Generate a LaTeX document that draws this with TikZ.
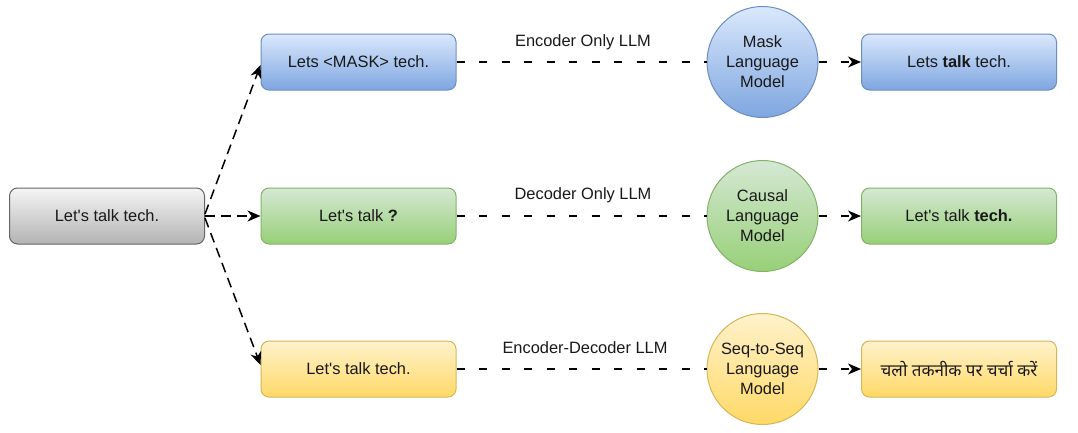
\documentclass[tikz,border=0pt]{standalone}
\usepackage{fontspec}
\setmainfont{Liberation Sans}[Ligatures=TeXOff]
\newfontfamily\hindifont[Script=Devanagari]{Noto Sans}
\usetikzlibrary{arrows.meta}
\definecolor{bluetop}{HTML}{DAE8FC}
\definecolor{bluebot}{HTML}{7EA6E0}
\definecolor{blueline}{HTML}{6C8EBF}
\definecolor{greentop}{HTML}{D5E8D4}
\definecolor{greenbot}{HTML}{97D077}
\definecolor{greenline}{HTML}{82B366}
\definecolor{yellowtop}{HTML}{FFF2CC}
\definecolor{yellowbot}{HTML}{FFD966}
\definecolor{yellowline}{HTML}{D6B656}
\definecolor{graytop}{HTML}{F5F5F5}
\definecolor{graybot}{HTML}{B3B3B3}
\definecolor{grayline}{HTML}{666666}
\begin{document}
\begin{tikzpicture}[x=1pt,y=-1pt,
  every node/.style={font=\fontsize{16.4}{20}\selectfont, text=black!90},
  box/.style={rectangle, rounded corners=8pt, minimum width=195pt, minimum height=56pt, line width=1pt, inner sep=0pt},
  circ/.style={circle, minimum size=111pt, inner sep=0pt, align=center, line width=1pt},
  bluefill/.style={draw=blueline, top color=bluetop, bottom color=bluebot},
  greenfill/.style={draw=greenline, top color=greentop, bottom color=greenbot},
  yellowfill/.style={draw=yellowline, top color=yellowtop, bottom color=yellowbot},
  grayfill/.style={draw=grayline, top color=graytop, bottom color=graybot},
  tip/.style={-{Stealth[length=13pt,width=11pt,inset=4pt]}},
  fan/.style={draw=black, line width=1.5pt, dash pattern=on 10pt off 6pt, tip},
  link/.style={draw=black, line width=1.5pt, dash pattern=on 8pt off 14.5pt},
  lbl/.style={inner sep=0pt}]
\useasboundingbox (0,0) rectangle (1078,432);
\fill[white] (0,0) rectangle (1078,432);

% nodes
\node[box, grayfill] (src) at (107,216) {Let's talk tech.};

\node[box, bluefill] (b1) at (358.5,62) {Lets <MASK> tech.};
\node[box, greenfill] (b2) at (358.5,216) {Let's talk \textbf{?}};
\node[box, yellowfill] (b3) at (358.5,369) {Let's talk tech.};

\node[circ, bluefill] (c1) at (762.5,62) {Mask\\Language\\Model};
\node[circ, greenfill] (c2) at (762.5,216) {Causal\\Language\\Model};
\node[circ, yellowfill] (c3) at (762.5,369) {Seq-to-Seq\\Language\\Model};

\node[box, bluefill] (r1) at (959,62) {Lets \textbf{talk} tech.};
\node[box, greenfill] (r2) at (959,216) {Let's talk \textbf{tech.}};
\node[box, yellowfill] (r3) at (959,369) {\hindifont\fontsize{17}{20}\selectfont चलो तकनीक पर चर्चा करें};

% labels
\node[lbl] (l1) at (583,42) {Encoder Only LLM};
\node[lbl] (l2) at (583,195) {Decoder Only LLM};
\node[lbl] (l3) at (585,348) {Encoder-Decoder LLM};

% fan arrows
\draw[fan] ([yshift=2pt]src.east) -- ([yshift=-3pt]b1.west);
\draw[fan] (src.east) -- (b2.west);
\draw[fan] ([yshift=-2pt]src.east) -- ([yshift=4pt]b3.west);

% model links
\draw[link] (b1.east) -- (c1.west);
\draw[link, tip] (c1.east) -- (r1.west);
\draw[link] (b2.east) -- (c2.west);
\draw[link, tip] (c2.east) -- (r2.west);
\draw[link] (b3.east) -- (c3.west);
\draw[link, tip] (c3.east) -- (r3.west);
\end{tikzpicture}
\end{document}
